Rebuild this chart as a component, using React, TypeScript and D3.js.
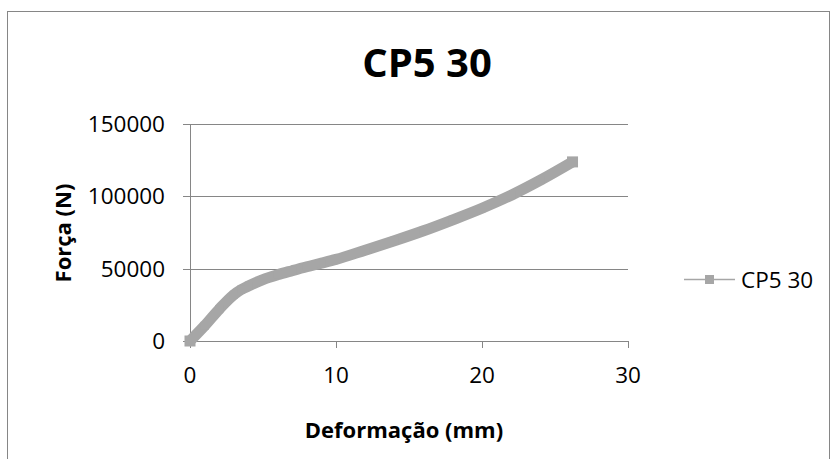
import React from "react";
import * as d3 from "d3";

const deformation = [0, 1, 2, 3, 3.5, 4, 5, 6, 7, 8, 9, 10, 12, 14, 16, 18, 20, 22, 24, 26.2];
const force = [0, 10500, 22000, 32000, 35500, 38000, 42500, 45800, 48600, 51300, 53800, 56400, 62800, 69300, 76200, 83800, 91800, 100800, 111200, 123800];
const xTicks = [0, 10, 20, 30];
const yTicks = [0, 50000, 100000, 150000];
const seriesName = "CP5 30";
const title = "CP5 30";
const xTitle = "Deformação (mm)";
const yTitle = "Força (N)";

const W = 831;
const H = 459;
const FONT = "'Open Sans', sans-serif";
const GRID = "#868686";
const SERIES = "#A6A6A6";

export default function App() {
  const x = d3.scaleLinear().domain([0, 30]).range([190, 628]);
  const y = d3.scaleLinear().domain([0, 150000]).range([341, 124]);
  const pts: [number, number][] = deformation.map((d, i) => [d, force[i]]);
  const line = d3
    .line<[number, number]>()
    .x((d) => x(d[0]))
    .y((d) => y(d[1]))
    .curve(d3.curveMonotoneX);
  const ms = 8;
  const last = pts[pts.length - 1];
  const first = pts[0];

  return (
    <svg
      width={W}
      height={H}
      style={{ position: "absolute", left: 0, top: 0, background: "#fff" }}
    >
      <rect x={0} y={0} width={W} height={H} fill="#fff" />
      <rect x={7.5} y={11.5} width={822} height={470} fill="#fff" stroke={GRID} strokeWidth={1} />
      {/* gridlines */}
      {yTicks.filter((t) => t > 0).map((t) => (
        <line key={"g" + t} x1={x(0)} x2={x(30)} y1={Math.round(y(t)) + 0.5} y2={Math.round(y(t)) + 0.5} stroke={GRID} strokeWidth={1} />
      ))}
      {/* y axis */}
      <line x1={190.5} x2={190.5} y1={Math.round(y(150000))} y2={Math.round(y(0)) + 0.5} stroke={GRID} />
      {yTicks.map((t) => (
        <g key={"y" + t}>
          <line x1={183} x2={190} y1={Math.round(y(t)) + 0.5} y2={Math.round(y(t)) + 0.5} stroke={GRID} />
          <text x={165} y={y(t)} dy="0.36em" textAnchor="end" fontFamily={FONT} fontSize={22.5} fill="#000">
            {t}
          </text>
        </g>
      ))}
      {/* x axis */}
      <line x1={190} x2={x(30) + 0.5} y1={Math.round(y(0)) + 0.5} y2={Math.round(y(0)) + 0.5} stroke={GRID} />
      {xTicks.map((t) => (
        <g key={"x" + t}>
          <line x1={Math.round(x(t)) + 0.5} x2={Math.round(x(t)) + 0.5} y1={Math.round(y(0))} y2={348} stroke={GRID} />
          <text x={x(t)} y={375} dy="0.36em" textAnchor="middle" fontFamily={FONT} fontSize={22.5} fill="#000">
            {t}
          </text>
        </g>
      ))}
      {/* series */}
      <path d={line(pts) || ""} fill="none" stroke={SERIES} strokeWidth={11} strokeLinejoin="round" />
      {pts.map((p, i) => (
        <rect key={"m" + i} x={x(p[0]) - ms / 2} y={y(p[1]) - ms / 2} width={ms} height={ms} fill={SERIES} />
      ))}
      <rect x={x(first[0]) - 5.5} y={y(first[1]) - 5.5} width={11} height={11} fill={SERIES} />
      <rect x={x(last[0]) - 5.5} y={y(last[1]) - 5.5} width={11} height={11} fill={SERIES} />
      {/* title */}
      <text x={427} y={77} textAnchor="middle" fontFamily={FONT} fontWeight="bold" fontSize={40} fill="#000">
        {title}
      </text>
      <text x={404} y={438} textAnchor="middle" fontFamily={FONT} fontWeight="bold" fontSize={22} fill="#000">
        {xTitle}
      </text>
      <text
        transform={`translate(63,233) rotate(-90)`}
        dy="0.36em"
        textAnchor="middle"
        fontFamily={FONT}
        fontWeight="bold"
        fontSize={22}
        fill="#000"
      >
        {yTitle}
      </text>
      {/* legend */}
      <line x1={684} x2={735} y1={279.5} y2={279.5} stroke={SERIES} strokeWidth={1.5} />
      <rect x={709.5 - 4.5} y={279.5 - 4.5} width={9} height={9} fill={SERIES} />
      <text x={741} y={279.5} dy="0.36em" fontFamily={FONT} fontSize={22.5} fill="#000">
        {seriesName}
      </text>
    </svg>
  );
}
